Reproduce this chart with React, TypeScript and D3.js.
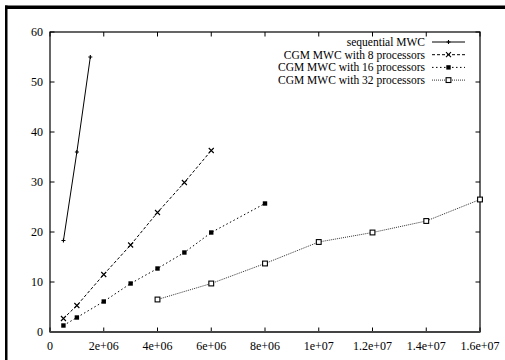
import React from "react";
import * as d3 from "d3";

const width = 505;
const height = 360;
const margin = { top: 32, right: 25, bottom: 28, left: 50 };

// data
const seqX = [5e5, 1e6, 1.5e6];
const seqY = [18.3, 36, 55];
const p8X = [5e5, 1e6, 2e6, 3e6, 4e6, 5e6, 6e6];
const p8Y = [2.7, 5.3, 11.5, 17.4, 23.9, 29.9, 36.3];
const p16X = [5e5, 1e6, 2e6, 3e6, 4e6, 5e6, 6e6, 8e6];
const p16Y = [1.3, 2.9, 6.1, 9.7, 12.7, 15.9, 19.9, 25.7];
const p32X = [4e6, 6e6, 8e6, 1e7, 1.2e7, 1.4e7, 1.6e7];
const p32Y = [6.5, 9.7, 13.7, 18, 19.9, 22.2, 26.5];

const seriesNames = [
  "sequential MWC",
  "CGM MWC with 8 processors",
  "CGM MWC with 16 processors",
  "CGM MWC with 32 processors"
];
const xTicks = [0, 2e6, 4e6, 6e6, 8e6, 1e7, 1.2e7, 1.4e7, 1.6e7];
const xTickLabels = ["0", "2e+06", "4e+06", "6e+06", "8e+06", "1e+07", "1.2e+07", "1.4e+07", "1.6e+07"];
const yTicks = [0, 10, 20, 30, 40, 50, 60];

const series = [
  { xs: seqX, ys: seqY, dash: "none", marker: "plus", color: "#000" },
  { xs: p8X, ys: p8Y, dash: "3,2", marker: "cross", color: "#000" },
  { xs: p16X, ys: p16Y, dash: "1.5,2.5", marker: "fill", color: "#000" },
  { xs: p32X, ys: p32Y, dash: "1,1", marker: "box", color: "#333" }
];

const font = "'Liberation Serif', 'Times New Roman', serif";

function Marker({ type, x, y }: { type: string; x: number; y: number }) {
  if (type === "plus") {
    return <path d={`M${x - 2},${y}H${x + 2}M${x},${y - 2}V${y + 2}`} stroke="#000" strokeWidth={1.1} />;
  }
  if (type === "cross") {
    return <path d={`M${x - 2.5},${y - 2.5}L${x + 2.5},${y + 2.5}M${x - 2.5},${y + 2.5}L${x + 2.5},${y - 2.5}`} stroke="#000" strokeWidth={1.1} />;
  }
  if (type === "fill") {
    return <rect x={x - 2.2} y={y - 2.2} width={4.4} height={4.4} fill="#000" />;
  }
  return <rect x={x - 2.4} y={y - 2.4} width={4.8} height={4.8} fill="#fff" stroke="#000" strokeWidth={1.1} />;
}

export default function App() {
  const x = d3.scaleLinear().domain([0, 1.6e7]).range([margin.left, width - margin.right]);
  const y = d3.scaleLinear().domain([0, 60]).range([height - margin.bottom, margin.top]);
  const line = d3
    .line<[number, number]>()
    .x((d) => x(d[0]))
    .y((d) => y(d[1]));

  const x0 = x(0);
  const x1 = x(1.6e7);
  const y0 = y(0);
  const y1 = y(60);
  const tick = 4.5;

  const legendRight = 425;
  const legendY0 = 42;
  const legendStep = 12.7;

  return (
    <svg width={width} height={height} style={{ position: "absolute", left: 0, top: 0, background: "#fff" }}>
      {/* page frame (cropped) */}
      <rect x={5} y={5.5} width={500} height={3.5} fill="#000" />
      <rect x={5} y={5.5} width={2.5} height={355} fill="#000" />

      {/* ticks */}
      <g stroke="#000" strokeWidth={1}>
        {xTicks.map((t, i) => (
          <g key={"xt" + i}>
            <line x1={x(t)} x2={x(t)} y1={y0} y2={y0 - tick} />
            <line x1={x(t)} x2={x(t)} y1={y1} y2={y1 + tick} />
          </g>
        ))}
        {yTicks.map((t, i) => (
          <g key={"yt" + i}>
            <line x1={x0} x2={x0 + tick} y1={y(t)} y2={y(t)} />
            <line x1={x1} x2={x1 - tick} y1={y(t)} y2={y(t)} />
          </g>
        ))}
      </g>
      <rect x={x0} y={y1} width={x1 - x0} height={y0 - y1} fill="none" stroke="#000" strokeWidth={1.2} />
      <line x1={x0} x2={x1} y1={y0} y2={y0} stroke="#444" strokeWidth={1.8} />

      {/* tick labels */}
      <g fontFamily={font} fontSize={12} fill="#000">
        {xTicks.map((t, i) => (
          <text key={"xl" + i} x={x(t)} y={y0 + 18} textAnchor="middle">
            {xTickLabels[i]}
          </text>
        ))}
        {yTicks.map((t, i) => (
          <text key={"yl" + i} x={x0 - 7} y={y(t)} dy="0.35em" textAnchor="end">
            {t}
          </text>
        ))}
      </g>

      {/* series */}
      {series.map((s, si) => {
        const pts = s.xs.map((v, i) => [v, s.ys[i]] as [number, number]);
        return (
          <g key={"s" + si}>
            <path d={line(pts) || ""} fill="none" stroke={s.color} strokeWidth={1} strokeDasharray={s.dash} />
            {pts.map((p, i) => (
              <Marker key={i} type={s.marker} x={x(p[0])} y={y(p[1])} />
            ))}
          </g>
        );
      })}

      {/* legend */}
      <g fontFamily={font} fontSize={11.5} fill="#000">
        {series.map((s, i) => {
          const ly = legendY0 + i * legendStep;
          return (
            <g key={"lg" + i}>
              <text x={legendRight} y={ly} dy="0.35em" textAnchor="end">
                {seriesNames[i]}
              </text>
              <line x1={432} x2={465} y1={ly} y2={ly} stroke={s.color} strokeWidth={1} strokeDasharray={s.dash} />
              <Marker type={s.marker} x={448.5} y={ly} />
            </g>
          );
        })}
      </g>
    </svg>
  );
}
